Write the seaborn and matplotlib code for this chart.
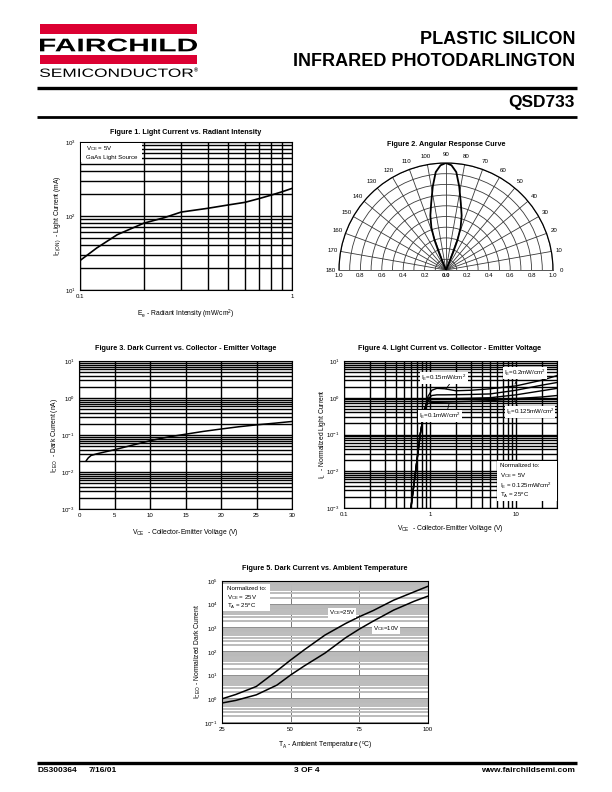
import numpy as np
import pandas as pd
import matplotlib
matplotlib.use('Agg')
import matplotlib.pyplot as plt
import seaborn as sns
from matplotlib.ticker import (LogLocator, FixedLocator, NullFormatter,
                               FixedFormatter, LogFormatterMathtext, MultipleLocator)
from matplotlib.textpath import TextPath
from matplotlib.patches import PathPatch, Rectangle
from matplotlib.font_manager import FontProperties
from matplotlib.transforms import Affine2D

# ---------------- data ----------------
fig1_irradiance = [0.1, 0.12, 0.15, 0.2, 0.25, 0.3, 0.4, 0.5, 0.6, 0.7, 0.8, 0.9, 1.0]
fig1_current = [25, 37, 56, 80, 95, 113, 127, 141, 153, 172, 192, 213, 236]

fig2_angle_deg = [66, 67, 68, 69, 71, 74, 77.5, 81, 84, 87, 90, 93, 96, 99, 102.5, 106, 109, 111, 112, 113, 114]
fig2_response = [0.0, 0.08, 0.18, 0.30, 0.42, 0.53, 0.64, 0.79, 0.92, 0.98, 1.0,
                 0.98, 0.92, 0.79, 0.64, 0.53, 0.42, 0.30, 0.18, 0.08, 0.0]
fig2_theta_labels = [str(a) for a in range(0, 181, 10)]
fig2_r_labels = ['0.2', '0.4', '0.6', '0.8', '1.0']

fig3_vce = [1.0, 1.3, 1.7, 2.5, 5, 7.5, 10, 12.5, 15, 17.5, 20, 22.5, 25, 27.5, 30]
fig3_iceo = [0.020, 0.024, 0.028, 0.031, 0.040, 0.053, 0.070, 0.088, 0.105, 0.125,
             0.145, 0.167, 0.188, 0.208, 0.232]

fig4_vce = [0.60, 0.68, 0.77, 0.85, 0.90, 0.95, 1.05, 1.2, 1.5, 2, 3, 5, 10, 20, 30]
fig4_ie_020 = [0.001, 0.01, 0.1, 0.4, 0.65, 1.1, 1.6, 1.8, 1.75, 1.55, 1.6, 1.75, 2.1, 3.0, 4.0]
fig4_ie_015 = [0.001, 0.01, 0.1, 0.4, 0.65, 0.95, 1.15, 1.2, 1.2, 1.21, 1.23, 1.27, 1.6, 2.2, 2.6]
fig4_ie_0125 = [0.001, 0.01, 0.1, 0.4, 0.65, 0.85, 0.9, 0.92, 0.93, 0.95, 0.97, 1.0, 1.2, 1.55, 1.8]
fig4_ie_010 = [0.001, 0.01, 0.1, 0.4, 0.6, 0.7, 0.74, 0.75, 0.76, 0.78, 0.8, 0.83, 0.95, 1.05, 1.15]
fig4_labels = ['0.2', '0.15', '0.125', '0.1']

fig5_temp = [25, 30, 37.5, 45, 50, 55, 62.5, 70, 75, 80, 87.5, 95, 100]
fig5_vce25 = [1.05, 1.6, 3.5, 16, 46, 125, 520, 1600, 3100, 5600, 15500, 35000, 60000]
fig5_vce10 = [0.7, 0.9, 1.55, 4.0, 10.7, 26, 90, 400, 930, 2000, 5900, 14000, 23000]

# ---------------- style ----------------
sns.set_style('white')
plt.rcParams['font.family'] = ['Liberation Sans', 'DejaVu Sans']
plt.rcParams['mathtext.fontset'] = 'custom'
plt.rcParams['mathtext.rm'] = 'Liberation Sans'
plt.rcParams['mathtext.it'] = 'Liberation Sans:italic'
plt.rcParams['mathtext.bf'] = 'Liberation Sans:bold'
plt.rcParams['axes.linewidth'] = 0.8
plt.rcParams['axes.edgecolor'] = 'black'
plt.rcParams['text.color'] = 'black'
plt.rcParams['axes.labelcolor'] = 'black'
plt.rcParams['xtick.color'] = 'black'
plt.rcParams['ytick.color'] = 'black'

W, H = 612, 792
fig = plt.figure(figsize=(W / 100, H / 100), dpi=100)

FS_TICK = 4.4
FS_LAB = 4.9
FS_TITLE = 5.2


def px_axes(l, t, r, b, **kw):
    return fig.add_axes([l / W, 1 - b / H, (r - l) / W, (b - t) / H], **kw)


def log_y(ax, lo, hi):
    ax.set_yscale('log')
    ax.set_ylim(lo, hi)
    ax.yaxis.set_major_locator(LogLocator(base=10, numticks=20))
    ax.yaxis.set_major_formatter(LogFormatterMathtext())
    ax.yaxis.set_minor_locator(LogLocator(base=10, subs=np.arange(2, 10), numticks=40))
    ax.yaxis.set_minor_formatter(NullFormatter())


def finish(ax):
    ax.tick_params(which='both', length=0, labelsize=FS_TICK, pad=3, colors='black')
    for s in ax.spines.values():
        s.set_color('black')
        s.set_linewidth(0.8)


# ---------------- Figure 1 ----------------
ax1 = px_axes(80, 142, 292, 290)
df1 = pd.DataFrame({'E': fig1_irradiance, 'I': fig1_current})
sns.lineplot(data=df1, x='E', y='I', ax=ax1, color='black', lw=1.2)
ax1.set_xscale('log')
ax1.set_xlim(0.1, 1)
ax1.xaxis.set_major_locator(FixedLocator([0.1, 1]))
ax1.xaxis.set_major_formatter(FixedFormatter(['0.1', '1']))
ax1.xaxis.set_minor_locator(FixedLocator(np.arange(0.2, 0.95, 0.1)))
ax1.xaxis.set_minor_formatter(NullFormatter())
log_y(ax1, 10, 1000)
ax1.grid(True, which='both', color='black', lw=1.0)
finish(ax1)
ax1.set_xlabel(r'E$_\mathrm{e}$ - Radiant Intensity (mW/cm$^2$)', fontsize=FS_LAB, labelpad=6)
ax1.set_ylabel(r'I$_\mathrm{C(ON)}$  - Light Current (mA)', fontsize=FS_LAB, labelpad=1)

# ---------------- Figure 2 (polar) ----------------
ax2 = px_axes(339, 109.5, 553, 323.5, projection='polar')
ax2.set_thetamin(0)
ax2.set_thetamax(180)
df2 = pd.DataFrame({'theta': np.deg2rad(fig2_angle_deg), 'r': fig2_response})
sns.lineplot(data=df2, x='theta', y='r', ax=ax2, color='black', lw=1.3, sort=False)
ax2.set_rlim(0, 1)
ax2.set_yticks(np.arange(0.1, 1.01, 0.1))
ax2.set_yticklabels([])
theta_ticks = np.deg2rad(np.arange(0, 181, 10))
ax2.set_xticks(theta_ticks)
ax2.set_xticklabels([])
ax2.tick_params(axis='x', length=0)
for th, lab in zip(theta_ticks, fig2_theta_labels):
    ax2.text(th, 1.075, lab, ha='center', va='center', fontsize=FS_TICK, clip_on=False)
ax2.grid(True, color='#3a3a3a', lw=0.6)
ax2.spines['polar'].set_color('black')
ax2.spines['polar'].set_linewidth(0.9)
for k in ('start', 'end', 'inner'):
    if k in ax2.spines:
        ax2.spines[k].set_color('#3a3a3a')
        ax2.spines[k].set_linewidth(0.6)
ax2.set_xlabel('')
ax2.set_ylabel('')
for lab in fig2_r_labels:
    for th in (0.0, np.pi):
        ax2.annotate(lab, xy=(th, float(lab)), xytext=(0, -2), textcoords='offset points',
                     ha='center', va='top', fontsize=FS_TICK, annotation_clip=False)
ax2.annotate('0.0', xy=(0, 0), xytext=(0, -2), textcoords='offset points',
             ha='center', va='top', fontsize=FS_TICK, fontweight='bold', annotation_clip=False)

# ---------------- Figure 3 ----------------
ax3 = px_axes(79, 361, 292, 509)
df3 = pd.DataFrame({'V': fig3_vce, 'I': fig3_iceo})
sns.lineplot(data=df3, x='V', y='I', ax=ax3, color='black', lw=1.1)
ax3.set_xlim(0, 30)
ax3.xaxis.set_major_locator(MultipleLocator(5))
log_y(ax3, 1e-3, 10)
ax3.grid(True, which='both', color='black', lw=1.0)
finish(ax3)
ax3.set_xlabel(r'V$_\mathrm{CE}$  - Collector-Emitter Voltage (V)', fontsize=FS_LAB, labelpad=6)
ax3.set_ylabel(r'I$_\mathrm{CEO}$  - Dark Current (nA)', fontsize=FS_LAB, labelpad=1)

# ---------------- Figure 4 ----------------
ax4 = px_axes(344, 361, 557, 508)
df4 = pd.concat([
    pd.DataFrame({'V': fig4_vce, 'I': vals, 'Ie': lab})
    for vals, lab in zip([fig4_ie_020, fig4_ie_015, fig4_ie_0125, fig4_ie_010], fig4_labels)
])
sns.lineplot(data=df4, x='V', y='I', hue='Ie', palette=['black'] * 4, ax=ax4,
             lw=1.0, legend=False, sort=False)
ax4.set_xscale('log')
ax4.set_xlim(0.1, 30)
ax4.xaxis.set_major_locator(FixedLocator([0.1, 1, 10]))
ax4.xaxis.set_major_formatter(FixedFormatter(['0.1', '1', '10']))
ax4.xaxis.set_minor_locator(LogLocator(base=10, subs=np.arange(2, 10), numticks=20))
ax4.xaxis.set_minor_formatter(NullFormatter())
log_y(ax4, 1e-3, 10)
ax4.grid(True, which='both', color='black', lw=1.0)
finish(ax4)
ax4.set_xlabel(r'V$_\mathrm{CE}$  - Collector-Emitter Voltage (V)', fontsize=FS_LAB, labelpad=4)
ax4.set_ylabel(r'I$_\mathrm{L}$  - Normalized Light Current', fontsize=FS_LAB, labelpad=-1)

# ---------------- Figure 5 ----------------
ax5 = px_axes(222, 581, 428, 723)
df5 = pd.concat([
    pd.DataFrame({'T': fig5_temp, 'I': fig5_vce25, 'V': '25V'}),
    pd.DataFrame({'T': fig5_temp, 'I': fig5_vce10, 'V': '10V'}),
])
sns.lineplot(data=df5, x='T', y='I', hue='V', palette=['black', 'black'], ax=ax5,
             lw=1.1, legend=False)
ax5.set_xlim(25, 100)
ax5.xaxis.set_major_locator(FixedLocator([25, 50, 75, 100]))
log_y(ax5, 0.1, 1e5)
for k in range(0, 6):
    ax5.axhspan(0.68 * 10 ** k, 10 ** k, color='#8e8e8e', lw=0, zorder=0.4)
ax5.grid(True, which='minor', axis='y', color='#bcbcbc', lw=1.4)
ax5.grid(True, which='major', axis='y', color='#8e8e8e', lw=1.4)
ax5.grid(True, which='major', axis='x', color='#777777', lw=0.7)
finish(ax5)
ax5.set_xlabel(r'T$_\mathrm{A}$ - Ambient Temperature ($^\mathrm{o}$C)', fontsize=FS_LAB, labelpad=6)
ax5.set_ylabel(r'I$_\mathrm{CEO}$ - Normalized Dark Current', fontsize=FS_LAB, labelpad=1)

# ---------------- page overlay ----------------
ax0 = fig.add_axes([0, 0, 1, 1], zorder=20)
ax0.set_xlim(0, W)
ax0.set_ylim(H, 0)
ax0.axis('off')
ax0.patch.set_alpha(0)


def path_text(s, x0, y0, x1, y1, weight='normal', color='black'):
    fp = FontProperties(family='Liberation Sans', weight=weight)
    tp = TextPath((0, 0), s, size=10, prop=fp)
    bb = tp.get_extents()
    tr = Affine2D().translate(-bb.x0, -bb.y0).scale((x1 - x0) / bb.width, -(y1 - y0) / bb.height).translate(x0, y1)
    ax0.add_patch(PathPatch(tr.transform_path(tp), fc=color, ec='none', lw=0))


RED = '#dc0032'
ax0.add_patch(Rectangle((40, 24), 157, 9.5, fc=RED, ec='none'))
ax0.add_patch(Rectangle((40, 55), 157, 9, fc=RED, ec='none'))
path_text('FAIRCHILD', 40, 38.5, 197, 51.5, weight='bold')
path_text('SEMICONDUCTOR', 40, 68.5, 193, 77)
ax0.text(194, 68, '®', fontsize=4, fontweight='bold', va='top', ha='left')

ax0.text(575, 40, 'PLASTIC SILICON', fontsize=13, fontweight='bold', ha='right', va='center')
ax0.text(575, 62, 'INFRARED PHOTODARLINGTON', fontsize=13, fontweight='bold', ha='right', va='center')
ax0.plot([37, 577], [88, 88], color='black', lw=2.4, solid_capstyle='butt')
ax0.text(575, 102.5, 'QSD733', fontsize=12.5, fontweight='bold', ha='right', va='center')
ax0.plot([37, 577], [117, 117], color='black', lw=2.0, solid_capstyle='butt')

ax0.plot([37, 577], [763, 763], color='black', lw=2.4, solid_capstyle='butt')
ax0.text(37, 770.5, 'DS300364', fontsize=6, fontweight='bold', ha='left', va='center')
ax0.text(89, 770.5, '7/16/01', fontsize=6, fontweight='bold', ha='left', va='center')
ax0.text(307, 770.5, '3 OF 4', fontsize=6, fontweight='bold', ha='center', va='center')
ax0.text(575, 770.5, 'www.fairchildsemi.com', fontsize=6, fontweight='bold', ha='right', va='center')

# figure titles
ax0.text(186, 132, 'Figure 1. Light Current vs. Radiant Intensity', fontsize=FS_TITLE,
         fontweight='bold', ha='center', va='center')
ax0.text(446, 145, 'Figure 2. Angular Response Curve', fontsize=FS_TITLE,
         fontweight='bold', ha='center', va='center')
ax0.text(186, 348, 'Figure 3. Dark Current vs. Collector - Emitter Voltage', fontsize=FS_TITLE,
         fontweight='bold', ha='center', va='center')
ax0.text(450, 348, 'Figure 4. Light Current vs. Collector - Emitter Voltage', fontsize=FS_TITLE,
         fontweight='bold', ha='center', va='center')
ax0.text(325, 568, 'Figure 5. Dark Current vs. Ambient Temperature', fontsize=FS_TITLE,
         fontweight='bold', ha='center', va='center')

FS_ANN = 4.4
# Figure 1 note box
ax0.add_patch(Rectangle((81, 142.5), 61, 19.5, fc='white', ec='none'))
ax0.text(86, 149, r'V$_\mathrm{CE}$ = 5V', fontsize=FS_ANN, va='center')
ax0.text(86, 158, 'GaAs Light Source', fontsize=FS_ANN, va='center')


def label_box(x, y, s, ha='center'):
    ax0.text(x, y, s, fontsize=FS_ANN, ha=ha, va='center',
             bbox=dict(boxstyle='square,pad=0.15', fc='white', ec='none'))


# Figure 4 notes
label_box(444, 378, r'I$_\mathrm{E}$=0.15mW/cm$^2$')
ax0.plot([451, 446], [382, 389], color='black', lw=0.6)
label_box(525, 373, r'I$_\mathrm{E}$=0.2mW/cm$^2$')
ax0.plot([518, 515], [377, 384], color='black', lw=0.6)
label_box(440, 416, r'I$_\mathrm{E}$=0.1mW/cm$^2$')
ax0.plot([447, 449], [412, 404], color='black', lw=0.6)
label_box(530, 412, r'I$_\mathrm{E}$=0.125mW/cm$^2$')
ax0.plot([518, 514], [408, 398], color='black', lw=0.6)

ax0.add_patch(Rectangle((497, 461), 59.5, 40, fc='white', ec='none'))
ax0.text(500, 465.5, 'Normalized to:', fontsize=FS_ANN, va='center')
ax0.text(500, 475.5, r'V$_\mathrm{CE}$ = 5V', fontsize=FS_ANN, va='center')
ax0.text(500, 485.5, r'I$_\mathrm{E}$ = 0.125mW/cm$^2$', fontsize=FS_ANN, va='center')
ax0.text(500, 495, r'T$_\mathrm{A}$ = 25$^\mathrm{o}$C', fontsize=FS_ANN, va='center')

# Figure 5 notes
ax0.add_patch(Rectangle((222.5, 584), 47, 27, fc='white', ec='none'))
ax0.text(227, 589, 'Normalized to:', fontsize=FS_ANN, va='center')
ax0.text(227, 597.5, r'V$_\mathrm{CE}$ = 25V', fontsize=FS_ANN, va='center')
ax0.text(227, 606.5, r'T$_\mathrm{A}$ = 25$^\mathrm{o}$C', fontsize=FS_ANN, va='center')
label_box(342, 613, r'V$_\mathrm{CE}$=25V')
label_box(386, 628.5, r'V$_\mathrm{CE}$=10V')

fig.savefig('out.png', dpi=100)
